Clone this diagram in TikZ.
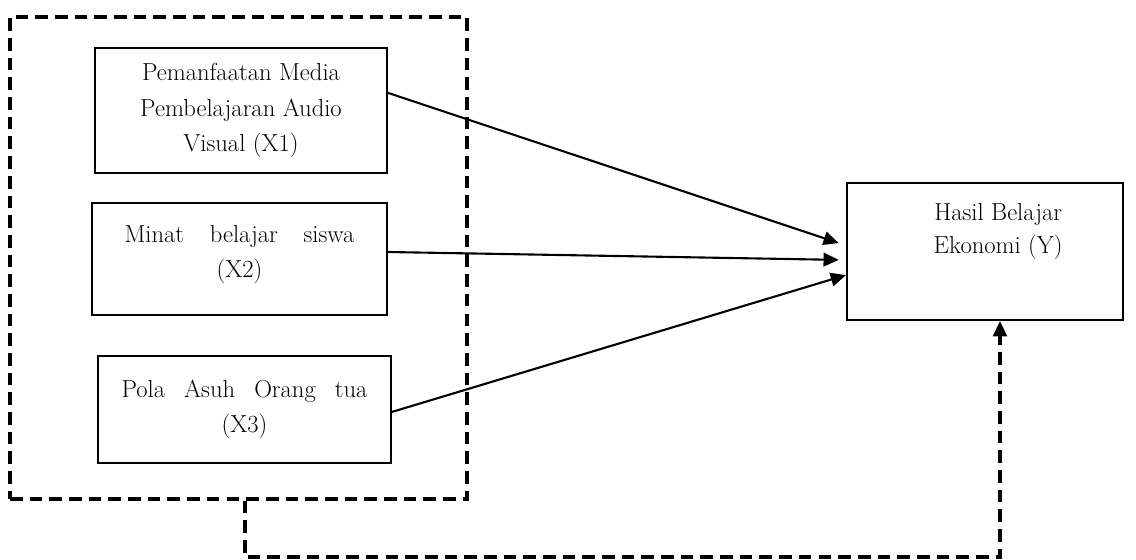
\documentclass[tikz,border=0pt]{standalone}
\usetikzlibrary{arrows.meta}

\tikzset{
  var/.style={draw, line width=1.5pt, align=center, inner sep=0pt,
    font=\fontsize{17.5}{25}\selectfont},
  link/.style={-{Triangle[length=3.8mm,width=3.4mm]}, line width=1.5pt},
  grouped/.style={line width=2.4pt, dash pattern=on 9pt off 5pt},
}

\begin{document}
\begin{tikzpicture}
\useasboundingbox (0,0) rectangle (28.4,14);

% dashed frame round the three variables
\node[grouped, draw, minimum width=11.425cm, minimum height=12.05cm, inner sep=0pt] (grp) at (5.9625,7.55) {};

\node[var, minimum width=7.3cm, minimum height=3.125cm] (x1) at (6.025,11.2375)
  {Pemanfaatan Media\\Pembelajaran Audio\\Visual (X1)};
\node[var, minimum width=7.375cm, minimum height=2.8cm] (x2) at (5.9875,7.525)
  {\hbox to 5.75cm{Minat\hfill belajar\hfill siswa}\\(X2)\\[-14pt]\mbox{}};
\node[var, minimum width=7.325cm, minimum height=2.675cm] (x3) at (6.1125,3.7625)
  {\hbox to 6.15cm{Pola\hfill Asuh\hfill Orang\hfill tua}\\(X3)};

\node[var, minimum width=6.9cm, minimum height=3.425cm,
  label={[anchor=north, align=center, font=\fontsize{17.5}{23}\selectfont, yshift=-0.42cm, xshift=0.33cm]north:Hasil Belajar\\Ekonomi (Y)}] (y) at (24.625,7.7125) {};

\draw[link] ([yshift=0.44cm]x1.east) -- ([xshift=-0.18cm,yshift=0.21cm]y.west);
\draw[link] ([yshift=0.175cm]x2.east) -- ([xshift=-0.18cm,yshift=-0.21cm]y.west);
\draw[link] ([yshift=-0.06cm]x3.east) -- ([yshift=-0.59cm]y.west);

\coordinate (lo) at (6.125,0.075);
\coordinate (up) at (25,0);
\draw[grouped, -{Triangle[length=3.8mm,width=3.4mm]}] (grp.south -| lo) -- (lo) -| (y.south -| up);
\end{tikzpicture}
\end{document}
